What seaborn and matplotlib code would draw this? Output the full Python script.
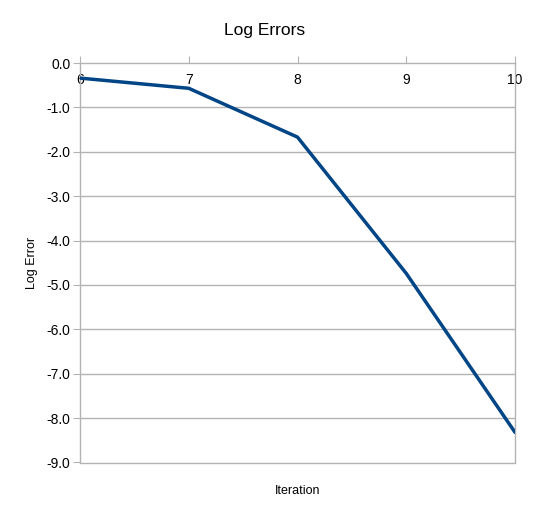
import pandas as pd
import seaborn as sns
import matplotlib
matplotlib.use('Agg')
from matplotlib import pyplot as plt

sns.set_style('white')
plt.rcParams['font.family'] = ['Liberation Sans', 'DejaVu Sans']
plt.rcParams['text.color'] = 'black'
plt.rcParams['axes.labelcolor'] = 'black'
plt.rcParams['xtick.labelcolor'] = 'black'
plt.rcParams['ytick.labelcolor'] = 'black'

iterations = [6, 7, 8, 9, 10]
log_errors = [-0.34, -0.57, -1.67, -4.74, -8.32]
yticks = [0.0, -1.0, -2.0, -3.0, -4.0, -5.0, -6.0, -7.0, -8.0, -9.0]

df = pd.DataFrame({'Iteration': iterations, 'Log Error': log_errors})

fig = plt.figure(figsize=(5.33, 5.18), dpi=100)
ax = fig.add_axes([80/533, 1-462.5/518, 435/533, 399.5/518])

for y in yticks[1:-1]:
    ax.axhline(y, color='#b3b3b3', lw=1, zorder=0)

sns.lineplot(x='Iteration', y='Log Error', data=df, color='#004586', lw=2.5, ax=ax, zorder=3)

ax.set_xlim(6, 10)
ax.set_ylim(-9, 0)
ax.set_yticks(yticks)
ax.set_yticklabels(['%.1f' % v for v in yticks])
ax.set_xticks(iterations)
ax.xaxis.tick_top()
ax.tick_params(axis='x', direction='out', length=5, color='#b3b3b3', pad=-22, labelsize=10)
ax.tick_params(axis='y', direction='out', length=5, color='#b3b3b3', pad=2, labelsize=10)
ax.tick_params(axis='both', left=True, top=True)

for side in ['left', 'right', 'bottom', 'top']:
    ax.spines[side].set_color('#b3b3b3')
    ax.spines[side].set_linewidth(1)

ax.set_xlabel('')
ax.set_ylabel('Log Error', fontsize=9, labelpad=6)
fig.text(298/533, 1-491/518, 'Iteration', fontsize=9, ha='center', va='center')
fig.text(265/533, 1-30/518, 'Log Errors', fontsize=12.5, ha='center', va='center')

fig.savefig('out.png', dpi=100, facecolor='white')
